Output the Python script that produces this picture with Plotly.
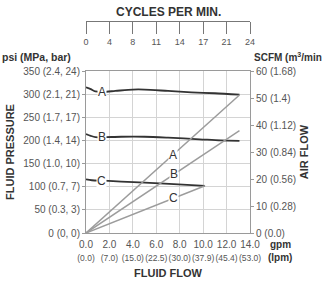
import plotly.graph_objects as go

# ---- data ----
flow_gpm_ticks = [0, 2, 4, 6, 8, 10, 12, 14]
flow_lpm_labels = ["(0.0)", "(7.0)", "(15.0)", "(22.5)", "(30.0)", "(37.9)", "(45.4)", "(53.0)"]
flow_gpm_labels = ["0.0", "2.0", "4.0", "6.0", "8.0", "10.0", "12.0", "14.0"]
cycles_labels = ["0", "4", "8", "11", "14", "17", "21", "24"]
psi_ticks = [0, 50, 100, 150, 200, 250, 300, 350]
psi_labels = ["0 (0, 0)", "50 (0.3, 3)", "100 (0.7, 7)", "150 (1.0, 10)",
              "200 (1.4, 14)", "250 (1.7, 17)", "300 (2.1, 21)", "350 (2.4, 24)"]
scfm_ticks = [0, 10, 20, 30, 40, 50, 60]
scfm_labels = ["0 (0.0)", "10 (0.28)", "20 (0.56)", "30 (0.84)", "40 (1.12)", "50 (1.4)", "60 (1.68)"]

# fluid pressure curves (psi vs gpm)
press_A_x = [0, 0.4, 0.8, 1.5, 2.5, 4, 5, 7, 9, 11, 13.1]
press_A_y = [315, 311, 306, 305, 307, 310, 310, 307, 304, 302, 299]
press_B_x = [0, 0.4, 0.8, 1.5, 3, 5, 7, 9.7, 11.5, 13.1]
press_B_y = [214, 210, 207, 207, 208, 208, 206, 202.5, 200, 199]
press_C_x = [0, 0.5, 1.5, 3, 5, 7.5, 10.16]
press_C_y = [116, 114, 113, 111, 108.7, 105.5, 102]

# air flow lines (SCFM vs gpm)
air_A_x = [0, 13.1]
air_A_y = [0, 51.1]
air_B_x = [0, 13.1]
air_B_y = [0, 37.9]
air_C_x = [0, 10.16]
air_C_y = [0, 17.5]

FONT = "Liberation Sans, Arial, sans-serif"
DARK = "#333333"
GRAY_TXT = "#555555"
AXIS = "#9a9a9a"
GRID = "#d4d4d4"

fig = go.Figure()

for xs, ys in [(air_A_x, air_A_y), (air_B_x, air_B_y), (air_C_x, air_C_y)]:
    fig.add_trace(go.Scatter(x=xs, y=ys, mode="lines", xaxis="x2", yaxis="y2",
                             line=dict(color="#9c9c9c", width=1.5), hoverinfo="skip"))

for xs, ys in [(press_A_x, press_A_y), (press_B_x, press_B_y), (press_C_x, press_C_y)]:
    fig.add_trace(go.Scatter(x=xs, y=ys, mode="lines", xaxis="x", yaxis="y",
                             line=dict(color=DARK, width=1.8, shape="spline", smoothing=0.8),
                             hoverinfo="skip"))

xtext = [f"{g}<br><span style='font-size:8.5px'>{l}</span>" for g, l in zip(flow_gpm_labels, flow_lpm_labels)]

YDOM_TOP = 0.764

fig.update_layout(
    width=323, height=283,
    margin=dict(l=86, r=73, t=21, b=50),
    paper_bgcolor="white", plot_bgcolor="white",
    showlegend=False,
    font=dict(family=FONT, size=10, color=GRAY_TXT),
    xaxis=dict(range=[0, 14], domain=[0, 1], tickmode="array", tickvals=flow_gpm_ticks,
               ticktext=xtext, showgrid=True, gridcolor=GRID, gridwidth=1, tickangle=0,
               showline=True, linecolor=AXIS, linewidth=1, mirror=True, zeroline=False,
               ticks="", ticklabelstandoff=2, tickfont=dict(size=10, color=GRAY_TXT),
               anchor="y", automargin=False,
               title=dict(text="<b>FLUID FLOW</b>", font=dict(size=11, color=DARK), standoff=7)),
    xaxis2=dict(range=[0, 14], overlaying="x", anchor="free", position=1, side="bottom",
                tickmode="array", tickvals=flow_gpm_ticks, ticktext=cycles_labels, tickangle=0,
                ticks="outside", ticklen=12, tickcolor="#777777", tickwidth=1, automargin=False,
                showline=True, linecolor="#777777", linewidth=1, showgrid=False, zeroline=False,
                tickfont=dict(size=9, color=GRAY_TXT)),
    yaxis=dict(range=[0, 350], domain=[0, YDOM_TOP], tickmode="array", tickvals=psi_ticks,
               ticktext=psi_labels, showgrid=True, gridcolor=GRID, gridwidth=1, automargin=False,
               showline=True, linecolor=AXIS, linewidth=1, mirror=True, zeroline=False,
               ticks="outside", ticklen=3, tickcolor=AXIS, tickfont=dict(size=10, color=GRAY_TXT),
               title=dict(text="<b>FLUID PRESSURE</b>", font=dict(size=11, color=DARK), standoff=6)),
    yaxis2=dict(range=[0, 60], domain=[0, YDOM_TOP], overlaying="y", side="right", anchor="x",
                tickmode="array", tickvals=scfm_ticks, ticktext=scfm_labels, automargin=False,
                showgrid=False, showline=False, zeroline=False,
                ticks="outside", ticklen=3, tickcolor=AXIS, tickfont=dict(size=10, color=GRAY_TXT),
                title=dict(text="<b>AIR FLOW</b>", font=dict(size=11, color=DARK), standoff=5)),
)

ann = []
ann.append(dict(text="<b>CYCLES PER MIN.</b>", xref="paper", yref="paper", x=0.5, y=1.0,
                yshift=9, xanchor="center", yanchor="middle", showarrow=False,
                font=dict(size=12, color=DARK)))
ann.append(dict(text="<b>psi (MPa, bar)</b>", xref="paper", yref="paper", x=0, y=YDOM_TOP,
                xshift=-86, yshift=14, xanchor="left", yanchor="middle", showarrow=False,
                font=dict(size=10.5, color=DARK)))
ann.append(dict(text="<b>SCFM (m<sup>3</sup>/min</b>", xref="paper", yref="paper", x=1, y=YDOM_TOP,
                xshift=2, yshift=14, xanchor="left", yanchor="middle", showarrow=False,
                font=dict(size=10, color=DARK)))
ann.append(dict(text="<b>gpm</b>", xref="paper", yref="paper", x=1, y=0, xshift=30, yshift=-11,
                xanchor="center", yanchor="middle", showarrow=False, font=dict(size=10, color=DARK)))
ann.append(dict(text="<b>(lpm)</b>", xref="paper", yref="paper", x=1, y=0, xshift=30, yshift=-24,
                xanchor="center", yanchor="middle", showarrow=False, font=dict(size=10, color=DARK)))

for lbl, yv in zip(["A", "B", "C"], [press_A_y[3], press_B_y[3], press_C_y[2]]):
    ann.append(dict(text=lbl, xref="x", yref="y", x=1.35, y=yv, showarrow=False,
                    bgcolor="white", borderpad=0, font=dict(size=12, color=DARK)))
for lbl, xs, ys, xv in [("A", air_A_x, air_A_y, 7.45), ("B", air_B_x, air_B_y, 7.5),
                        ("C", air_C_x, air_C_y, 7.45)]:
    yv = ys[1] / xs[1] * xv
    ann.append(dict(text=lbl, xref="x2", yref="y2", x=xv, y=yv, showarrow=False,
                    bgcolor="white", borderpad=0, font=dict(size=12, color=DARK)))

fig.update_layout(annotations=ann)
fig.write_html("out.html", config={"displayModeBar": False},
               post_script="document.body.style.margin='0';")
